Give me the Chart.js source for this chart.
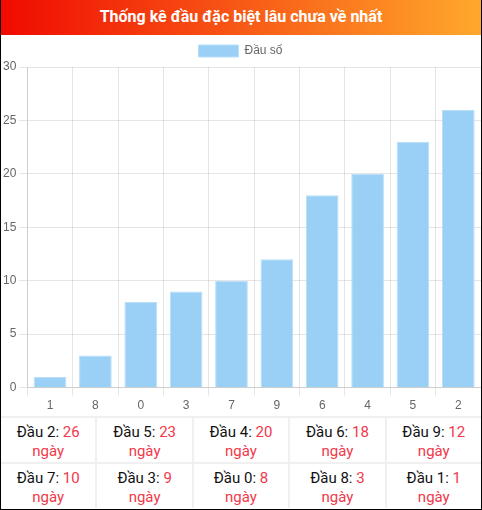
<!DOCTYPE html>
<html lang="vi">
<head>
<meta charset="utf-8">
<title>Thống kê đầu đặc biệt lâu chưa về nhất</title>
<script src="https://cdn.jsdelivr.net/npm/chart.js@4/dist/chart.umd.min.js"></script>
<style>
  html, body { margin: 0; padding: 0; background: #fff; }
  .box {
    width: 480px;
    height: 509px;
    border-left: 1px solid #000;
    border-right: 1px solid #000;
    border-bottom: 1px solid #000;
    font-family: Roboto, "Noto Sans", sans-serif;
  }
  .title {
    height: 35px;
    line-height: 33px;
    text-align: center;
    color: #fff;
    font-weight: bold;
    font-size: 16px;
    background: linear-gradient(to right, #f00a00, #ffa82c);
  }
  .chart-wrap { position: relative; height: 381px; width: 481px; margin-left: -1px; }
  .grid {
    display: grid;
    grid-template-columns: repeat(5, 1fr);
    gap: 2px;
    background: #f0f0f0;
    padding-top: 2px;
  }
  .cell {
    background: #fff;
    height: 44px;
    text-align: center;
    font-size: 15px;
    line-height: 19px;
    padding-top: 5px;
    box-sizing: border-box;
    color: #111;
  }
  .cell .red { color: #f2384a; }
</style>
</head>
<body>
<div class="box">
  <div class="title">Thống kê đầu đặc biệt lâu chưa về nhất</div>
  <div class="chart-wrap"><canvas id="chart"></canvas></div>
  <div class="grid" id="grid"></div>
</div>
<script>
const categories = ["1", "8", "0", "3", "7", "9", "6", "4", "5", "2"];
const days = [1, 3, 8, 9, 10, 12, 18, 20, 23, 26];
const seriesLabel = "Đầu số";

new Chart(document.getElementById("chart"), {
  type: "bar",
  data: {
    labels: categories,
    datasets: [
      {
        label: seriesLabel,
        data: days,
        backgroundColor: "#9ad0f5",
        borderColor: "#b8def8",
        borderWidth: 1,
      },
    ],
  },
  options: {
    responsive: true,
    maintainAspectRatio: false,
    animation: false,
    plugins: {
      legend: { labels: { color: "#666", font: { size: 12 } } },
    },
    scales: {
      y: { min: 0, max: 30, ticks: { stepSize: 5, color: "#666" } },
      x: { ticks: { color: "#666" } },
    },
  },
});

// table of the longest gaps, biggest first
const grid = document.getElementById("grid");
for (let i = categories.length - 1; i >= 0; i--) {
  const cell = document.createElement("div");
  cell.className = "cell";
  cell.innerHTML = `Đầu ${categories[i]}: <span class="red">${days[i]}</span><br><span class="red">ngày</span>`;
  grid.appendChild(cell);
}
</script>
</body>
</html>
